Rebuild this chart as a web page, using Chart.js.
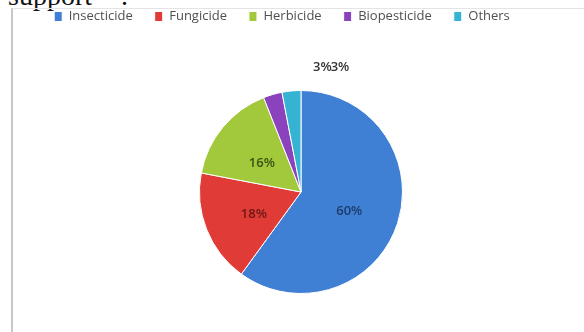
<!DOCTYPE html>
<html>
<head>
<meta charset="utf-8">
<script src="https://cdn.jsdelivr.net/npm/chart.js@4.4.0/dist/chart.umd.min.js"></script>
<style>
  body { margin: 0; background: #fff; width: 584px; height: 332px; overflow: hidden; position: relative; }
  #cut { position: absolute; left: 8px; top: -20px; font: 28px "Liberation Serif", serif; color: #111; white-space: nowrap; }
  #cut .dot { position: absolute; left: 113px; }
  #frame { position: absolute; left: 11px; top: 8px; width: 580px; height: 330px; border-left: 2px solid #c8c8c8; border-top: 1px solid #e4e4e4; }
  #wrap { position: absolute; left: 12px; top: -12px; width: 572px; height: 344px; }
</style>
</head>
<body>
<div id="cut">support<span class="dot">.</span></div>
<div id="frame"></div>
<div id="wrap"><canvas id="pie"></canvas></div>
<script>
const categories = ["Insecticide", "Fungicide", "Herbicide", "Biopesticide", "Others"];
const shares = [60, 18, 16, 3, 3];
const sliceColors = ["#3f7fd4", "#e03b36", "#a2c93c", "#8a42bd", "#36b3d3"];
const labelColors = ["#1d3c6b", "#6a1714", "#3b5212", "#333333", "#333333"];

// leave room under the legend so the pie sits where the original one does
const legendGap = {
  id: "legendGap",
  beforeInit(chart) {
    const fit = chart.legend.fit;
    chart.legend.fit = function () {
      fit.bind(chart.legend)();
      this.height = 102;
    };
  },
  afterLayout(chart) {
    chart.legend.left -= 19;
    chart.legend.right -= 19;
  },
};

// percent labels: inside for big slices, small ones side by side above the pie
const pctLabels = {
  id: "pctLabels",
  afterDatasetsDraw(chart) {
    const ctx = chart.ctx;
    const arcs = chart.getDatasetMeta(0).data;
    ctx.save();
    ctx.font = "600 13px 'Open Sans'";
    ctx.textBaseline = "middle";
    let smallX = null;
    arcs.forEach((arc, i) => {
      const txt = shares[i] + "%";
      ctx.fillStyle = labelColors[i];
      if (shares[i] >= 10) {
        const p = arc.tooltipPosition();
        ctx.textAlign = "center";
        ctx.fillText(txt, p.x, p.y + 4);
      } else {
        if (smallX === null) smallX = arc.x + 12;
        ctx.textAlign = "left";
        ctx.fillText(txt, smallX, arc.y - arc.outerRadius - 23);
        smallX += ctx.measureText(txt).width - 1;
      }
    });
    ctx.restore();
  },
};

new Chart(document.getElementById("pie"), {
  type: "pie",
  data: {
    labels: categories,
    datasets: [
      {
        data: shares,
        backgroundColor: sliceColors,
        borderColor: "#ffffff",
        borderWidth: 1,
      },
    ],
  },
  options: {
    responsive: true,
    maintainAspectRatio: false,
    animation: false,
    layout: { padding: { left: 6, bottom: 38 } },
    plugins: {
      legend: {
        position: "top",
        labels: {
          boxWidth: 8,
          boxHeight: 10,
          padding: 22,
          color: "#505050",
          font: { family: "'Open Sans'", size: 13 },
        },
      },
      tooltip: { enabled: false },
    },
  },
  plugins: [legendGap, pctLabels],
});
</script>
</body>
</html>
